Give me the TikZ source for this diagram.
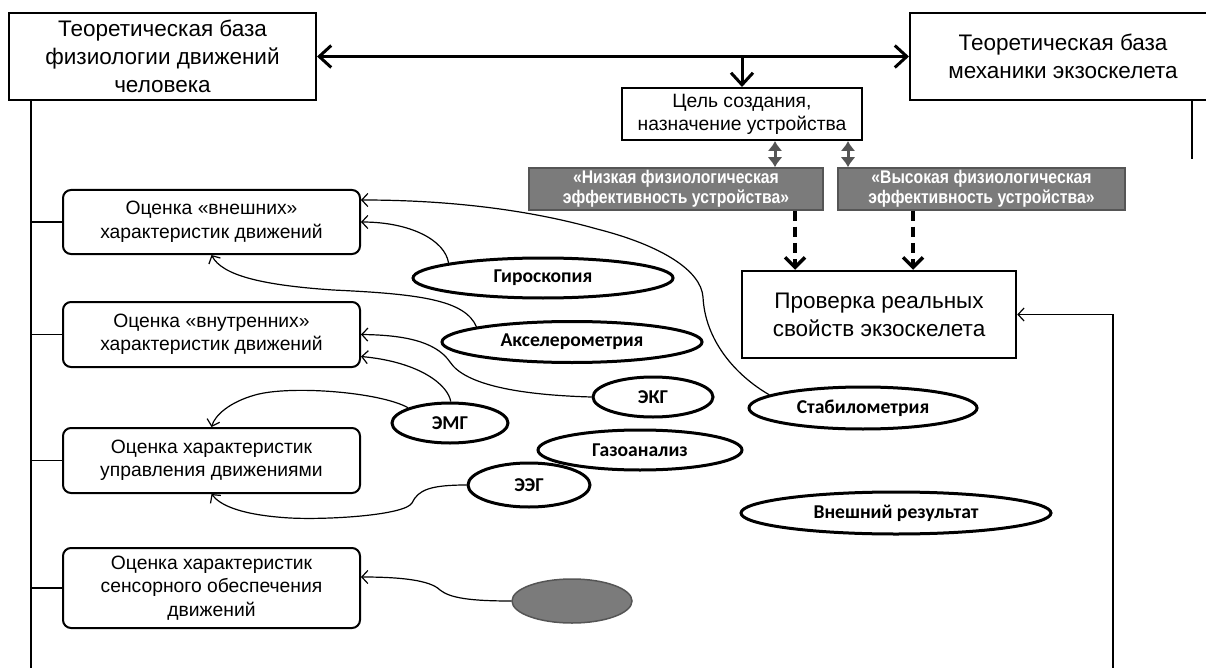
\documentclass[tikz,border=0pt]{standalone}
\usepackage{fontspec}
\setmainfont{Liberation Sans}
\newfontfamily\calibrifont{Carlito}
\newfontfamily\narrowbold[FakeStretch=0.86,BoldFont={Liberation Sans Bold}]{Liberation Sans}
\usetikzlibrary{arrows.meta,shapes.geometric}
\definecolor{graybg}{HTML}{7B7B7B}
\definecolor{grayln}{HTML}{555555}
\begin{document}
\begin{tikzpicture}[x=1pt,y=-1pt,
  bigbox/.style={draw, line width=2pt, inner sep=0pt, align=center, font=\fontsize{22.5}{28}\selectfont},
  goalbox/.style={draw, line width=2pt, inner sep=0pt, align=center, font=\fontsize{19.3}{23}\selectfont},
  graybox/.style={draw=grayln, fill=graybg, line width=1.5pt, text=white, inner sep=0pt, align=center, font=\narrowbold\bfseries\fontsize{18.3}{20.5}\selectfont, minimum height=42pt},
  evalbox/.style={draw, rounded corners=8pt, line width=2pt, inner sep=0pt, align=center, minimum width=297pt, font=\fontsize{19.3}{23.5}\selectfont},
  method/.style={ellipse, draw, line width=3pt, inner sep=0pt, font=\calibrifont\bfseries\fontsize{19.6}{22}\selectfont},
  conn/.style={line width=1.2pt, -{Straight Barb[length=6pt,width=13pt]}},
  thickarr/.style={line width=3pt},
  dasharr/.style={line width=4pt, dash pattern=on 10pt off 6pt, -{Straight Barb[length=10pt,width=20pt,line width=3.5pt]}},
  smallarr/.style={line width=3pt, draw=grayln, {Latex[length=10pt,width=15pt]}-{Latex[length=10pt,width=15pt]}},
  plain/.style={line width=1.2pt}
]
\useasboundingbox (0,0) rectangle (1206,668);

% top boxes
\node[bigbox, minimum width=307pt, minimum height=87pt] (A) at (162.5,56.5) {Теоретическая база\\физиологии движений\\человека};
\node[bigbox, minimum width=306pt, minimum height=87pt] (B) at (1063,56.5) {Теоретическая база\\механики экзоскелета};
\node[goalbox, minimum width=240pt, minimum height=52pt] (goal) at (742,114) {Цель создания,\\назначение устройства};
\node[graybox, minimum width=294pt] (low) at (676,189) {«Низкая физиологическая\\эффективность устройства»};
\node[graybox, minimum width=287pt] (high) at (981.5,189) {«Высокая физиологическая\\эффективность устройства»};
\node[bigbox, line width=2.5pt, minimum width=274pt, minimum height=87pt] (prov) at (879,314.5) {Проверка реальных\\свойств экзоскелета};

% left evaluation boxes
\node[evalbox, minimum height=64pt] (b1) at (211.5,222) {Оценка «внешних»\\характеристик движений};
\node[evalbox, minimum height=65pt] (b2) at (211.5,334.5) {Оценка «внутренних»\\характеристик движений};
\node[evalbox, minimum height=65pt] (b3) at (211.5,460.5) {Оценка характеристик\\управления движениями};
\node[evalbox, minimum height=80pt] (b4) at (211.5,588) {Оценка характеристик\\сенсорного обеспечения\\движений};

% methods
\node[method, minimum width=260pt, minimum height=40pt] (gyro) at (543,278) {Гироскопия};
\node[method, minimum width=260pt, minimum height=41pt] (accel) at (572,342) {Акселерометрия};
\node[method, minimum width=120pt, minimum height=40pt] (ekg) at (653,397) {ЭКГ};
\node[method, minimum width=116pt, minimum height=40pt] (emg) at (450,423) {ЭМГ};
\node[method, minimum width=204pt, minimum height=40pt] (gas) at (640,450) {Газоанализ};
\node[method, minimum width=122pt, minimum height=44pt] (eeg) at (529,485) {ЭЭГ};
\node[method, minimum width=228pt, minimum height=42pt] (stab) at (863,408) {Стабилометрия};
\node[method, minimum width=310pt, minimum height=42pt] (ext) at (896,513) {Внешний результат};
\node[ellipse, draw=grayln, fill=graybg, line width=1.5pt, minimum width=120pt, minimum height=44pt, inner sep=0pt] (sens) at (572,601) {};

% coordinates for free ends
\coordinate (lb) at (31,668);
\coordinate (fb) at (1113,668);
\coordinate (j) at (742,56.5);

% top double arrow and down arrow
\draw[thickarr, {Straight Barb[length=12pt,width=22pt,line width=3pt]}-{Straight Barb[length=12pt,width=22pt,line width=3pt]}] (A.east) -- (B.west);
\draw[thickarr, -{Straight Barb[length=12pt,width=22pt,line width=3pt]}] (j) -- (goal.north);

% small double arrows
\draw[smallarr] ([xshift=33pt]goal.south) -- ([xshift=33pt]goal.south |- low.north);
\draw[smallarr] ([xshift=106pt]goal.south) -- ([xshift=106pt]goal.south |- high.north);

% dashed arrows
\draw[dasharr] ([xshift=119pt]low.south) -- ([xshift=119pt]low.south |- prov.north);
\draw[dasharr] ([xshift=-68.5pt]high.south) -- ([xshift=-68.5pt]high.south |- prov.north);

% right vertical line under B
\draw[plain] ([xshift=129pt]B.south) -- ++(0,58);

% feedback line
\draw[conn] (fb) |- (prov.east);

% left spine
\draw[plain] (A.south -| lb) -- (lb);
\draw[plain] (b1.west) -- (b1.west -| lb);
\draw[plain] (b2.west) -- (b2.west -| lb);
\draw[plain] (b3.west) -- (b3.west -| lb);
\draw[plain] (b4.west) -- (b4.west -| lb);

% method connectors
\draw[conn] (stab.172) .. controls (735,375) and (705,340) .. (703,297)
   .. controls (701,270) and (660,245) .. (597,229)
   .. controls (530,210) and (450,200) .. ([yshift=22pt]b1.east);
\draw[conn] (gyro.171) .. controls (445,240) and (410,222) .. (b1.east);
\draw[conn] (accel.171) .. controls (465,300) and (420,294) .. (333,290)
   .. controls (260,285) and (222,275) .. (b1.south);
\draw[conn] (ekg.west) .. controls (520,395) and (465,385) .. (450,362)
   .. controls (435,340) and (400,335) .. (b2.east);
\draw[conn] (emg.88) .. controls (448,385) and (420,362) .. ([yshift=-22pt]b2.east);
\draw[conn] (emg.160) .. controls (380,392) and (290,385) .. (255,395)
   .. controls (230,402) and (215,415) .. (b3.north);
\draw[conn] (eeg.west) .. controls (430,485) and (418,490) .. (412,503)
   .. controls (405,515) and (330,520) .. (290,518)
   .. controls (240,515) and (220,505) .. (b3.south);
\draw[conn] (sens.west) .. controls (470,601) and (450,598) .. (440,590)
   .. controls (430,580) and (400,577) .. ([yshift=11pt]b4.east);
\end{tikzpicture}
\end{document}
